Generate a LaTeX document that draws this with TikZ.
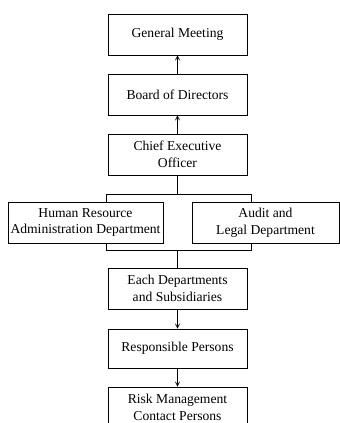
\documentclass[tikz,border=0pt]{standalone}
\usepackage{fontspec}
\setmainfont{Liberation Serif}
\usetikzlibrary{arrows.meta}
\begin{document}
\begin{tikzpicture}[x=1pt,y=-1pt,
  box/.style={draw,line width=0.8pt,align=center,inner sep=0pt,
    font=\fontsize{13.6}{16.5}\selectfont},
  mainbox/.style={box,minimum width=139pt,minimum height=41pt},
  link/.style={line width=0.8pt},
  arr/.style={link,-{Straight Barb[length=4pt,width=4pt,line width=0.7pt]}}]
\useasboundingbox (0,0) rectangle (340,423);
\clip (0,0) rectangle (340,423);
\node[mainbox] (gm) at (177.5,34.5) {General Meeting};
\node[mainbox] (bod) at (177.5,94.5) {Board of Directors};
\node[mainbox] (ceo) at (177.5,154.5) {Chief Executive\\Officer};
\node[box,minimum width=155pt,minimum height=41pt] (hr) at (85.5,222.5) {Human Resource\\Administration Department};
\node[box,minimum width=147pt,minimum height=41pt] (aud) at (265.5,222.5) {Audit and\\Legal Department};
\node[mainbox] (each) at (177.5,288.5) {Each Departments\\and Subsidiaries};
\node[mainbox,minimum height=39pt] (resp) at (177.5,348.5) {Responsible Persons};
\node[mainbox] (risk) at (177.5,407.5) {Risk Management\\Contact Persons};
\coordinate (bl) at (106,194);
\coordinate (br) at (251,194);
\coordinate (ml) at (106,250);
\coordinate (mr) at (251,250);
\draw[arr] (bod.north) -- (gm.south);
\draw[arr] (ceo.north) -- (bod.south);
\draw[link] (ceo.south) -- (ceo.south |- bl);
\draw[link] (hr.north -| bl) -- (bl) -- (br) -- (aud.north -| br);
\draw[link] (hr.south -| ml) -- (ml) -- (mr) -- (aud.south -| mr);
\draw[link] (each.north |- ml) -- (each.north);
\draw[arr] (each.south) -- (resp.north);
\draw[arr] (resp.south) -- (risk.north);
\end{tikzpicture}
\end{document}
